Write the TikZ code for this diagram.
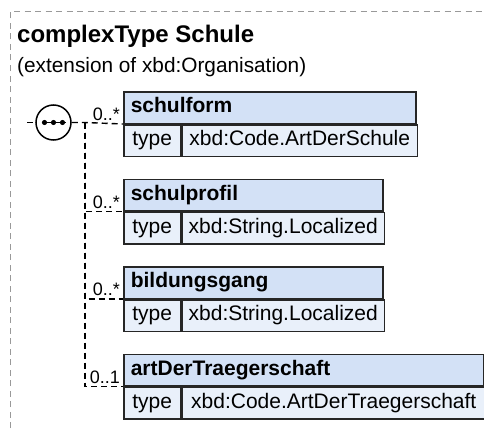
\documentclass[tikz,border=0pt]{standalone}
\usepackage{fontspec}
\setmainfont{Liberation Sans}
\setsansfont{Liberation Sans}
\usepackage{tikz}
\usetikzlibrary{calc}
\usetikzlibrary{positioning}
\usetikzlibrary{shapes.geometric}
\definecolor{headblue}{HTML}{D3E1F6}
\definecolor{rowblue}{HTML}{E9F0FA}
\definecolor{framegray}{HTML}{999999}
\tikzset{
	framebox/.style={draw=framegray, line width=1pt, dash pattern=on 6pt off 4.5pt},
	conn/.style={draw, line width=1.4pt, dash pattern=on 6pt off 4pt},
	elcell/.style={
		rectangle,
		draw=black!85, line width=1.5pt,
		minimum height=31.5pt,
		inner ysep=0pt,
		text height=15pt,
		text depth=4.5pt,
		font=\fontsize{21}{25}\selectfont},
	elhead/.style={
		elcell,
		fill=headblue,
		inner xsep=7pt,
		align=left,
		font=\fontsize{21}{25}\selectfont\bfseries},
	eltype/.style={elcell, fill=rowblue, inner xsep=0pt, minimum width=57pt},
	elvalue/.style={elcell, fill=rowblue, inner xsep=5pt},
	multi/.style={inner sep=0pt, font=\fontsize{18}{20}\selectfont},
	seqnode/.style={circle, draw, line width=1.5pt, fill=white, minimum size=35pt, inner sep=0pt},
	titletext/.style={inner sep=0pt, font=\fontsize{24}{28}\selectfont\bfseries},
	subtext/.style={inner sep=0pt, font=\fontsize{20.8}{24}\selectfont},
}
\begin{document}
\begin{tikzpicture}
	[x=1pt, y=-1pt, node distance=21.5pt]
	\useasboundingbox (0,0) rectangle (484,428);
	\draw[framebox] (10,428) |- (484,12);
	
	\node[titletext, anchor=base west] (title) at (17,42) {complexType Schule};
	\node[subtext, anchor=base west] (subtitle) at (17,73) {(extension of xbd:Organisation)};
	
	% elements
	\node[elhead, text width=278pt, anchor=north west] (schulform) at (123,91) {schulform};
	\node[eltype, below right=0pt and 0pt of schulform.south west] (schulformT) {type};
	\node[elvalue, minimum width=235pt, right=0pt of schulformT] (schulformV) {xbd:Code.ArtDerSchule};
	
	\node[elhead, text width=245pt, below right=21.5pt and 0pt of schulformT.south west] (schulprofil) {schulprofil};
	\node[eltype, below right=0pt and 0pt of schulprofil.south west] (schulprofilT) {type};
	\node[elvalue, minimum width=202pt, right=0pt of schulprofilT] (schulprofilV) {xbd:String.Localized};
	
	\node[elhead, text width=245pt, below right=21.5pt and 0pt of schulprofilT.south west] (bildungsgang) {bildungsgang};
	\node[eltype, below right=0pt and 0pt of bildungsgang.south west] (bildungsgangT) {type};
	\node[elvalue, minimum width=202pt, right=0pt of bildungsgangT] (bildungsgangV) {xbd:String.Localized};
	
	\node[elhead, text width=346pt, below right=21.5pt and 0pt of bildungsgangT.south west] (traeger) {artDerTraegerschaft};
	\node[eltype, below right=0pt and 0pt of traeger.south west] (traegerT) {type};
	\node[elvalue, minimum width=303pt, right=0pt of traegerT] (traegerV) {xbd:Code.ArtDerTraegerschaft};
	
	% sequence
	\node[seqnode] (seq) at (53.5,122.5) {};
	\draw[line width=1.3pt] ([xshift=-12pt]seq.center) -- ([xshift=12pt]seq.center);
	\foreach \dx in {-9,0,9}
		\fill ([xshift=\dx pt]seq.center) circle (2.6pt);
	
	\coordinate (seqin) at (27,122.5);
	\coordinate (trunk) at (85,122.5);
	\draw[conn] (seqin) -- (seq);
	\draw[conn] (seq) -- (trunk) -- (schulform.south west);
	\foreach \el in {schulprofil,bildungsgang,traeger}
		\draw[conn] (trunk) |- (\el.south west);
	
	\node[multi, above left=3pt and 3pt of schulform.south west] (schulformM) {0..*};
	\node[multi, above left=3pt and 3pt of schulprofil.south west] (schulprofilM) {0..*};
	\node[multi, above left=3pt and 3pt of bildungsgang.south west] (bildungsgangM) {0..*};
	\node[multi, above left=3pt and 3pt of traeger.south west] (traegerM) {0..1};
\end{tikzpicture}
\end{document}
